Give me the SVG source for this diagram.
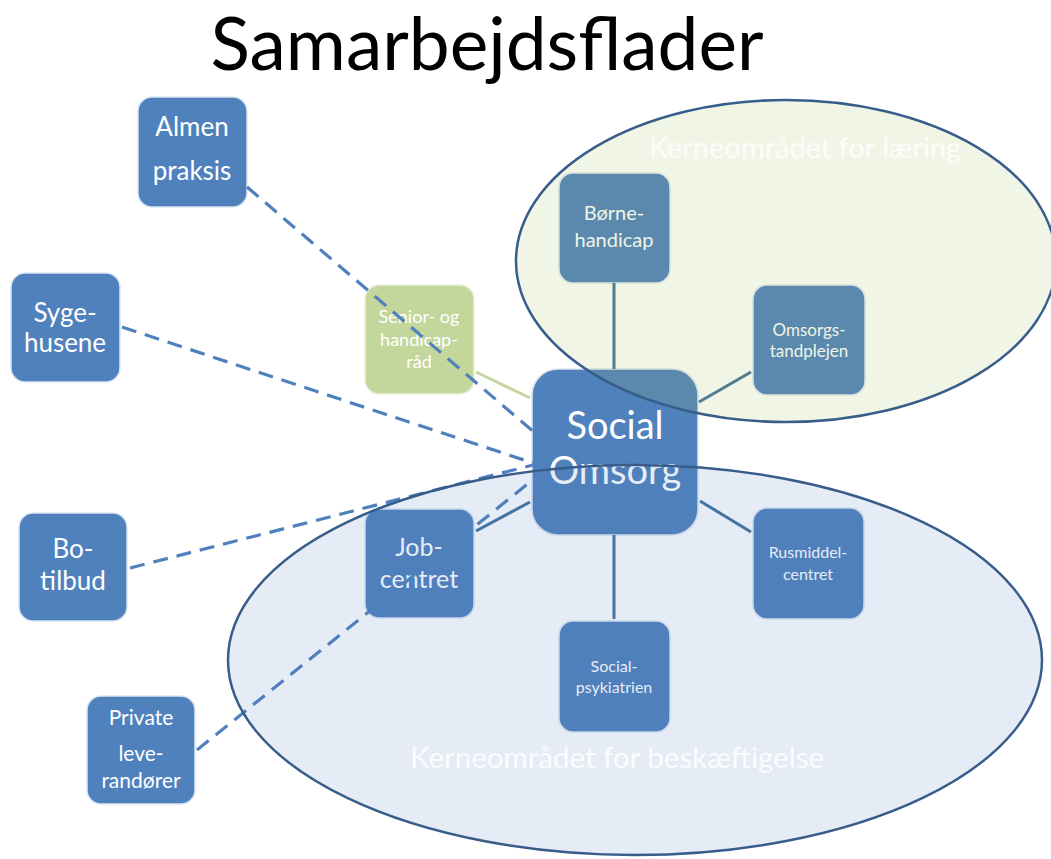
<svg xmlns="http://www.w3.org/2000/svg" width="1051" height="859" viewBox="0 0 1051 859">
<style>
.node{fill:#4f81bd;stroke:#dce6f2;stroke-width:1.5}
.green{fill:#c3d69b;stroke:#eaf1dd;stroke-width:1.5}
.t{font-family:Lato,"Open Sans","Liberation Sans",sans-serif;fill:#ffffff;text-anchor:middle}
.solid{stroke:#41719c;stroke-width:3;fill:none}
.dash{stroke:#4f81bd;stroke-width:3.2;fill:none;stroke-dasharray:15 9}
.ell{stroke:#385d8a;stroke-width:2.5}
.lbl{font-family:Lato,"Open Sans","Liberation Sans",sans-serif;fill:#ffffff;text-anchor:middle}
</style>
<rect width="1051" height="859" fill="#ffffff"/>
<text x="487" y="70" font-family="Lato,'Open Sans','Liberation Sans',sans-serif" font-size="73" fill="#000000" text-anchor="middle">Samarbejdsflader</text>

<g id="almen-praksis"><rect class="node" x="138" y="97" width="109" height="110" rx="14"/><text class="t" font-size="26" x="192" y="136">Almen</text><text class="t" font-size="26" x="192" y="180">praksis</text></g>
<g id="sygehusene"><rect class="node" x="11" y="273" width="109" height="109" rx="14"/><text class="t" font-size="26" x="65" y="322">Syge-</text><text class="t" font-size="26" x="65" y="352">husene</text></g>
<g id="bo-tilbud"><rect class="node" x="19" y="513" width="108" height="108" rx="14"/><text class="t" font-size="26" x="73" y="558">Bo-</text><text class="t" font-size="26" x="73" y="590">tilbud</text></g>
<g id="private-leverandorer"><rect class="node" x="87" y="696" width="108" height="108" rx="14"/><text class="t" font-size="21" x="141" y="725">Private</text><text class="t" font-size="21" x="141" y="761">leve-</text><text class="t" font-size="21" x="141" y="788">randører</text></g>
<g id="senior-handicapraad"><rect class="green" x="365" y="285" width="109" height="109" rx="14"/><text class="t" font-size="18" x="419" y="323">Senior- og</text><text class="t" font-size="18" x="419" y="346">handicap-</text><text class="t" font-size="18" x="419" y="368">råd</text></g>
<g id="social-omsorg"><rect class="node" x="532" y="369" width="166" height="166" rx="26"/><text class="t" font-size="38" x="615" y="439">Social</text><text class="t" font-size="38" x="615" y="484">Omsorg</text></g>
<g id="borne-handicap"><rect class="node" x="559" y="173" width="111" height="110" rx="14"/><text class="t" font-size="20" x="614" y="220">Børne-</text><text class="t" font-size="20" x="614" y="247">handicap</text></g>
<g id="omsorgstandplejen"><rect class="node" x="753" y="285" width="112" height="110" rx="14"/><text class="t" font-size="17" x="809" y="336">Omsorgs-</text><text class="t" font-size="17" x="809" y="357">tandplejen</text></g>
<g id="jobcentret"><rect class="node" x="365" y="509" width="109" height="109" rx="14"/><text class="t" font-size="25" x="419" y="556">Job-</text><text class="t" font-size="25" x="419" y="588">centret</text></g>
<g id="rusmiddelcentret"><rect class="node" x="753" y="508" width="111" height="111" rx="14"/><text class="t" font-size="16" x="808" y="558">Rusmiddel-</text><text class="t" font-size="16" x="808" y="580">centret</text></g>
<g id="socialpsykiatrien"><rect class="node" x="559" y="621" width="111" height="111" rx="14"/><text class="t" font-size="16" x="614" y="672">Social-</text><text class="t" font-size="16" x="614" y="693">psykiatrien</text></g>

<g id="connectors">
<line class="solid" x1="614" y1="283" x2="614" y2="369"/>
<line class="solid" x1="751" y1="372" x2="699" y2="402"/>
<line class="solid" x1="700" y1="501" x2="751" y2="532"/>
<line class="solid" x1="614" y1="535" x2="614" y2="619"/>
<line class="solid" x1="530" y1="502" x2="476" y2="531"/>
<line stroke="#c3d69b" stroke-width="3" x1="476" y1="372" x2="530" y2="398"/>
<line class="dash" x1="247" y1="187" x2="535" y2="433"/>
<line class="dash" x1="122" y1="327" x2="533" y2="463"/>
<line class="dash" x1="130" y1="568" x2="533" y2="465"/>
<line class="dash" x1="197" y1="750" x2="535" y2="478"/>
</g>

<g id="kerneomraade-laering">
<ellipse class="ell" cx="786" cy="261" rx="270" ry="161" fill="#9bbb59" fill-opacity="0.15"/>
<text class="lbl" font-size="29" x="805" y="158" fill-opacity="0.85">Kerneområdet for læring</text>
</g>
<g id="kerneomraade-beskaeftigelse">
<ellipse class="ell" cx="635" cy="660" rx="407" ry="195" fill="#4f81bd" fill-opacity="0.15"/>
<text class="lbl" font-size="29.5" x="617" y="768" fill-opacity="0.85">Kerneområdet for beskæftigelse</text>
</g>
</svg>
